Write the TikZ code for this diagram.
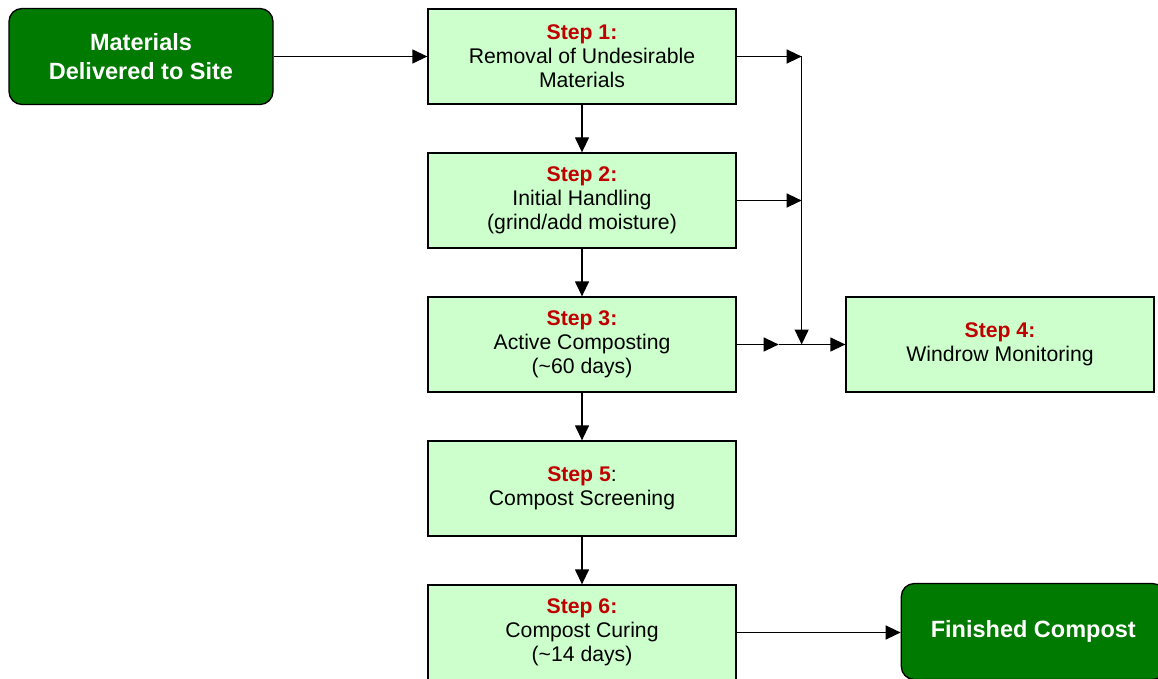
\documentclass[tikz,border=0pt]{standalone}
\usepackage{fontspec}
\setmainfont{Liberation Sans}
\usetikzlibrary{arrows.meta,positioning}
\definecolor{stepfill}{HTML}{CCFFCC}
\definecolor{darkgreen}{HTML}{007A00}
\definecolor{stepred}{HTML}{C00000}
\newcommand{\steplabel}[1]{{\color{stepred}\bfseries #1}}

\begin{document}
\begin{tikzpicture}[x=1pt,y=-1pt,-{Triangle[length=15pt,width=14pt]},line width=1.3pt,
node distance=47.7pt]
\tikzstyle{stepbox}=[draw,fill=stepfill,minimum width=308pt,minimum height=95pt,
  align=center,font=\fontsize{21.2}{24}\selectfont]
\tikzstyle{endbox}=[draw,fill=darkgreen,rounded corners=13pt,minimum width=264pt,
  minimum height=96pt,align=center,text=white,font=\fontsize{23.5}{29}\selectfont\bfseries]

\useasboundingbox (0,0) rectangle (1158,679);

\node[endbox]   (mat) at (141,56.5) {Materials\\Delivered to Site};
\node[stepbox]  (s1) at (582,56.5)  {\steplabel{Step 1:}\\Removal of Undesirable\\Materials};
\node[stepbox]  (s2) [below=of s1]  {\steplabel{Step 2:}\\Initial Handling\\(grind/add moisture)};
\node[stepbox]  (s3) [below=of s2]  {\steplabel{Step 3:}\\Active Composting\\(\textasciitilde60 days)};
\node[stepbox]  (s4) [right=108.7pt of s3] {\steplabel{Step 4:}\\Windrow Monitoring};
\node[stepbox]  (s5) [below=of s3]  {\steplabel{Step 5}:\\Compost Screening};
\node[stepbox]  (s6) [below=of s5]  {\steplabel{Step 6:}\\Compost Curing\\(\textasciitilde14 days)};
\node[endbox]   (fin) [right=164pt of s6,yshift=1pt] {Finished Compost};

% junction in front of step 4
\coordinate (j1) at ([xshift=65pt]s1.east);
\coordinate (j2) at (j1 |- s2.east);
\coordinate (j3) at (j1 |- s3.east);
\coordinate (jm) at ([xshift=42pt]s3.east);

\path
(mat.east) edge (s1.west)
(s1) edge (s2)
(s2) edge (s3)
(s3) edge (s5)
(s5) edge (s6)
(s1.east) edge (j1)
(s2.east) edge (j2)
(j1) edge (j3)
(s3.east) edge (jm)
(jm) edge (s4.west)
(s6.east) edge (s6.east -| fin.west);
\end{tikzpicture}
\end{document}
